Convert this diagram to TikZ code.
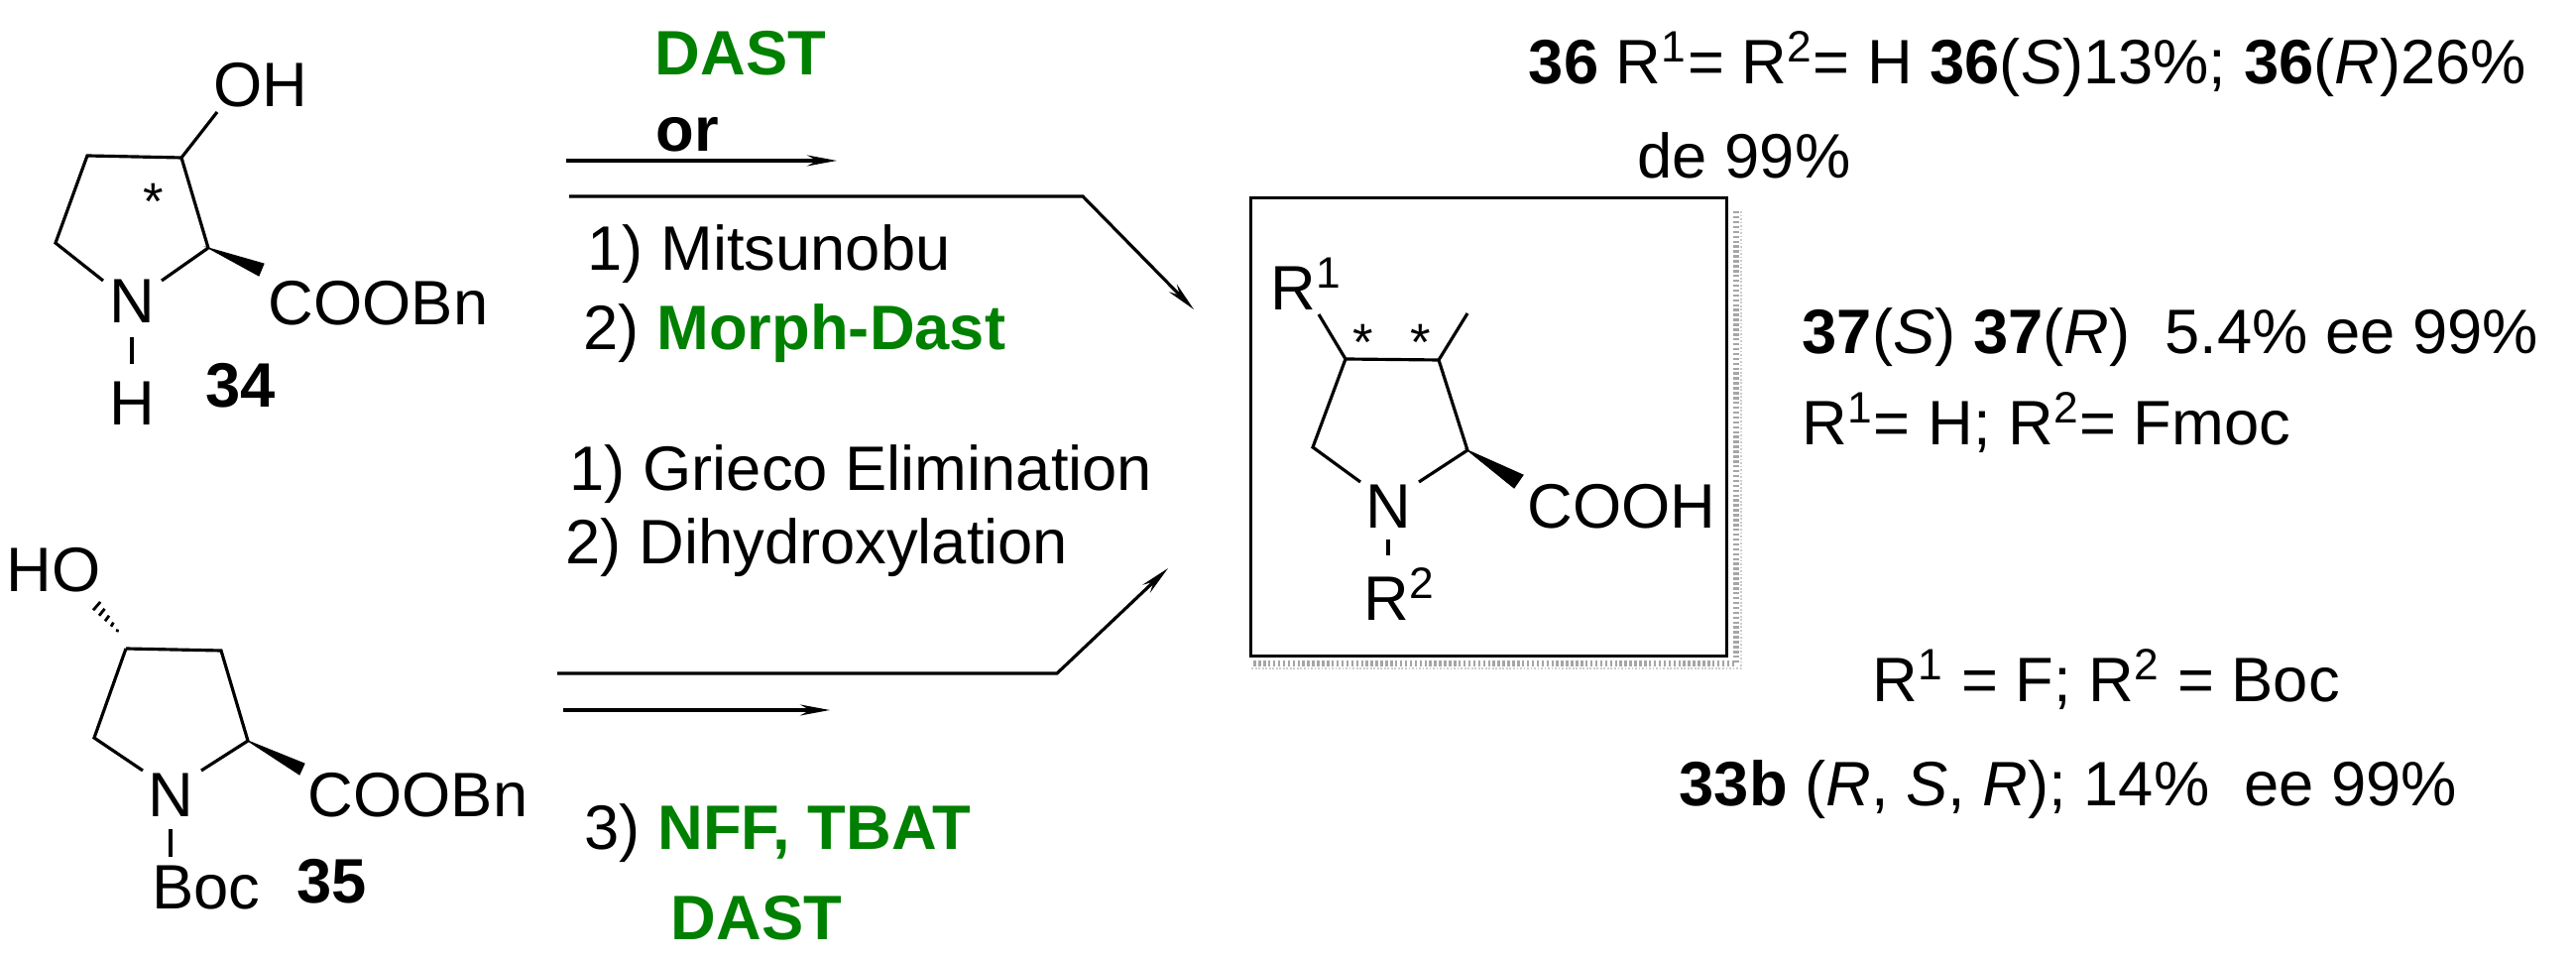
\documentclass[tikz,border=0pt]{standalone}
\usepackage{fontspec}
\setmainfont{Liberation Sans}
\usetikzlibrary{arrows.meta,calc}
\definecolor{rgreen}{RGB}{0,128,0}
\tikzset{
  bond/.style={line width=0.9pt},
  lbl/.style={inner sep=0pt, font=\fontsize{18}{21}\selectfont},
  grn/.style={lbl, text=rgreen, font=\fontsize{18}{21}\selectfont\bfseries},
  rarrow/.style={line width=0.9pt, -{Stealth[length=0.3cm,width=0.11cm,inset=0.1cm]}},
  wedge/.style={fill=black, draw=black, line width=0.3pt}
}
\newcommand{\sups}[1]{\textsuperscript{#1}}
\begin{document}
\begin{tikzpicture}[x=0.01cm,y=-0.01cm]
\useasboundingbox (0,0) rectangle (2598,968);
% ---- 34
\node[lbl] (oh34) at (263,86) {OH};
\node[lbl] (n34) at (133,304) {N};
\node[lbl] (h34) at (133,407) {H};
\node[lbl,anchor=west] (coo34) at (270,306) {COOBn};
\node[lbl,font=\fontsize{18}{21}\selectfont\bfseries] (l34) at (243,389) {34};
\node[lbl,font=\fontsize{15}{18}\selectfont] (s34) at (155,203) {*};
\draw[bond] (219,113) -- (183,159) -- (88,157) -- (56,245) -- (104,283);
\draw[bond] (163,283) -- (210,250) -- (183,159);
\fill[wedge] (210,250) -- (261,278) -- (266,266) -- cycle;
\draw[bond] (133,340) -- (133,367);
% ---- 35
\node[lbl] (ho35) at (54,575) {HO};
\node[lbl] (n35) at (172,802) {N};
\node[lbl] (boc35) at (208,895) {Boc};
\node[lbl,anchor=west] (coo35) at (310,802) {COOBn};
\node[lbl,font=\fontsize{18}{21}\selectfont\bfseries] (l35) at (335,889) {35};
\foreach \t in {0.1,0.3,0.5,0.7,0.9}{
  \draw[line width=0.8pt] ($(120,639)!\t!(94,608)+(-{4*\t+1},{3.5*\t+1})$) -- ($(120,639)!\t!(94,608)+({4*\t+1},{-3.5*\t-1})$);
}
\draw[bond] (127,654) -- (223,656) -- (250,747) -- (203,777);
\draw[bond] (127,654) -- (95,744) -- (144,777);
\fill[wedge] (250,747) -- (302,781) -- (307,770) -- cycle;
\draw[bond] (172,836) -- (172,864);
% ---- reagents
\node[grn] (dast1) at (747,54) {DAST};
\node[lbl,font=\fontsize{18}{21}\selectfont\bfseries] (or) at (693,136) {or};
\node[lbl,anchor=west] (m1) at (592,256) {1) Mitsunobu};
\node[lbl,anchor=west] (m2) at (588,336) {2) \textcolor{rgreen}{\bfseries Morph-Dast}};
\node[lbl,anchor=west] (g1) at (574,478) {1) Grieco Elimination};
\node[lbl,anchor=west] (g2) at (570,552) {2) Dihydroxylation};
\node[lbl,anchor=west] (g3) at (589,840) {3) \textcolor{rgreen}{\bfseries NFF, TBAT}};
\node[grn] (dast2) at (763,926) {DAST};
\coordinate (a1s) at (571,162); \coordinate (a1e) at (844,162);
\coordinate (a2s) at (574,198); \coordinate (a2m) at (1092,198); \coordinate (a2e) at (1204,312);
\coordinate (a3s) at (562,679); \coordinate (a3m) at (1066,679); \coordinate (a3e) at (1178,573);
\coordinate (a4s) at (568,716); \coordinate (a4e) at (837,716);
\draw[rarrow] (a1s) -- (a1e);
\draw[rarrow] (a2s) -- (a2m) -- (a2e);
\draw[rarrow] (a3s) -- (a3m) -- (a3e);
\draw[rarrow] (a4s) -- (a4e);
% ---- product box
\draw[gray!70, line width=1.6pt, dash pattern=on 0.7pt off 0.7pt] (1751,213) -- (1751,669) -- (1262,669);
\draw[gray!40, line width=0.6pt, dash pattern=on 0.5pt off 0.5pt] (1756,213) -- (1756,674) -- (1262,674);
\node[draw, line width=0.9pt, minimum width=4.8cm, minimum height=4.62cm, anchor=north west, inner sep=0pt] (box) at (1260,198) {};
\node[lbl] (r1) at (1318,286) {R\sups{1}};
\node[lbl] (np) at (1400,511) {N};
\node[lbl] (r2) at (1412,599) {R\sups{2}};
\node[lbl,anchor=west] (cooh) at (1540,511) {COOH};
\node[lbl,font=\fontsize{15}{18}\selectfont] (st1) at (1375,345) {*};
\node[lbl,font=\fontsize{15}{18}\selectfont] (st2) at (1433,345) {*};
\draw[bond] (1330,317) -- (1357,362) -- (1451,363) -- (1480,316);
\draw[bond] (1451,363) -- (1480,454) -- (1431,486);
\draw[bond] (1357,362) -- (1324,451) -- (1372,486);
\fill[wedge] (1480,454) -- (1527,492) -- (1536,479) -- cycle;
\draw[bond] (1400,544) -- (1400,560);
% ---- results
\node[lbl] (t36) at (2045,65) {\textbf{36} R\sups{1}= R\sups{2}= H \textbf{36}(\textit{S})13\%; \textbf{36}(\textit{R})26\%};
\node[lbl] (de) at (1759,157) {de 99\%};
\node[lbl,anchor=west] (t37) at (1817,340) {\textbf{37}(\textit{S}) \textbf{37}(\textit{R})\ \ 5.4\% ee 99\%};
\node[lbl,anchor=west] (fm) at (1817,426) {R\sups{1}= H; R\sups{2}= Fmoc};
\node[lbl] (rf) at (2124,685) {R\sups{1} = F; R\sups{2} = Boc};
\node[lbl] (t33) at (2086,796) {\textbf{33b} (\textit{R}, \textit{S}, \textit{R}); 14\%\ \ ee 99\%};
\end{tikzpicture}
\end{document}
